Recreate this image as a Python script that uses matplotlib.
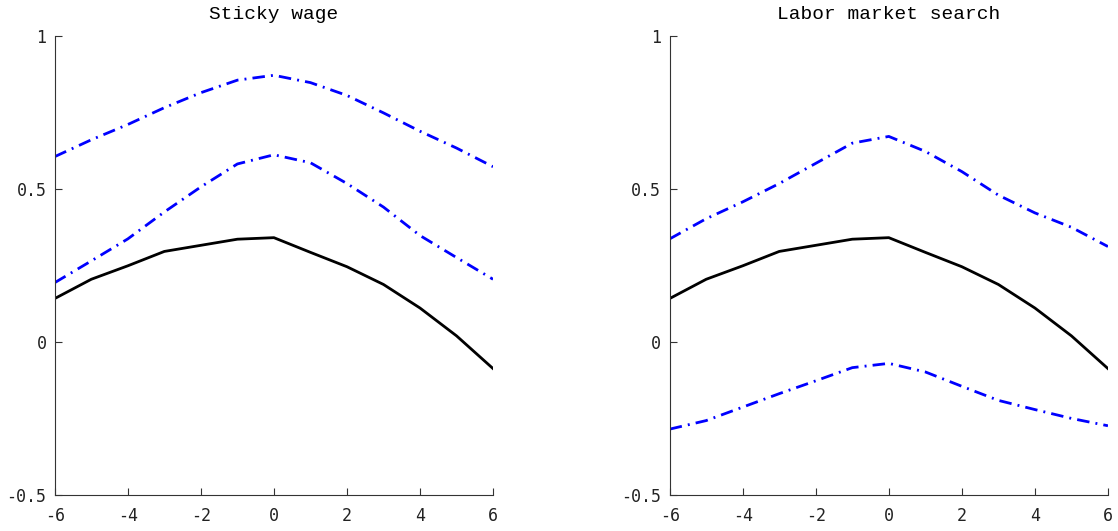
import numpy as np
import matplotlib
matplotlib.use("Agg")
import matplotlib.pyplot as plt

# ===================== Dados =====================
horizonte = [-6, -5, -4, -3, -2, -1, 0, 1, 2, 3, 4, 5, 6]

# linha preta (igual nos dois painéis)
resposta = [0.142, 0.205, 0.249, 0.296, 0.316, 0.336, 0.341, 0.293, 0.246, 0.188, 0.111, 0.020, -0.087]

# Sticky wage
sticky_sup = [0.606, 0.661, 0.711, 0.766, 0.815, 0.856, 0.872, 0.848, 0.806, 0.749, 0.689, 0.634, 0.573]
sticky_inf = [0.194, 0.265, 0.337, 0.425, 0.507, 0.582, 0.612, 0.586, 0.518, 0.441, 0.348, 0.276, 0.205]

# Labor market search
search_sup = [0.337, 0.403, 0.458, 0.518, 0.584, 0.650, 0.672, 0.623, 0.557, 0.480, 0.422, 0.375, 0.312]
search_inf = [-0.285, -0.257, -0.213, -0.169, -0.127, -0.084, -0.070, -0.098, -0.145, -0.191, -0.221, -0.250, -0.274]

titulos = ["Sticky wage", "Labor market search"]
xticks = [-6, -4, -2, 0, 2, 4, 6]
yticks = [-0.5, 0, 0.5, 1]
yticklabels = ["-0.5", "0", "0.5", "1"]

# ===================== Figura =====================
plt.rcParams['font.family'] = ['DejaVu Sans Mono']
plt.rcParams['axes.unicode_minus'] = False

fig = plt.figure(figsize=(11.18, 5.31), dpi=100)
ax1 = fig.add_axes([0.049, 0.068, 0.392, 0.864])
ax2 = fig.add_axes([0.599, 0.068, 0.392, 0.864])

bandas = [(sticky_sup, sticky_inf), (search_sup, search_inf)]
estilo_banda = (0, (4.5, 2.2, 0.7, 2.2))

for ax, titulo, (sup, inf) in zip([ax1, ax2], titulos, bandas):
    ax.plot(horizonte, sup, color='#0000ff', lw=2, linestyle=estilo_banda)
    ax.plot(horizonte, inf, color='#0000ff', lw=2, linestyle=estilo_banda)
    ax.plot(horizonte, resposta, color='black', lw=2)
    ax.set_xlim(-6, 6)
    ax.set_ylim(-0.5, 1)
    ax.set_xticks(xticks)
    ax.set_xticklabels([str(t) for t in xticks])
    ax.set_yticks(yticks)
    ax.set_yticklabels(yticklabels)
    ax.set_title(titulo, fontsize=14, pad=12, family=['Liberation Mono'])
    for lado in ['top', 'right']:
        ax.spines[lado].set_visible(False)
    for lado in ['left', 'bottom']:
        ax.spines[lado].set_color('#333333')
        ax.spines[lado].set_linewidth(0.8)
    ax.tick_params(direction='in', length=5, width=0.8, labelsize=12, colors='#333333',
                   labelcolor='#222222')
    ax.tick_params(axis='x', pad=9)
    ax.tick_params(axis='y', pad=6)

fig.savefig('out.png', dpi=100)
